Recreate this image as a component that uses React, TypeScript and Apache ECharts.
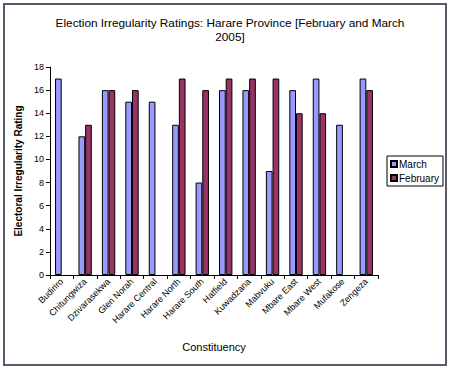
import React, { useEffect, useRef } from "react";
import * as echarts from "echarts";

const categories = [
  "Budiriro", "Chitungwiza", "Dzivarasekwa", "Glen Norah", "Harare Central",
  "Harare North", "Harare South", "Hatfield", "Kuwadzana", "Mabvuku",
  "Mbare East", "Mbare West", "Mufakose", "Zengeza",
];
const march: (number | null)[] = [17, 12, 16, 15, 15, 13, 8, 16, 16, 9, 16, 17, 13, 17];
const february: (number | null)[] = [null, 13, 16, 16, null, 17, 16, 17, 17, 17, 14, 14, null, 16];

const titleText = "Election Irregularity Ratings: Harare Province [February and March\n2005]";
const yAxisTitle = "Electoral Irregularity Rating";
const xAxisTitle = "Constituency";

export default function App() {
  const ref = useRef<HTMLDivElement>(null);
  useEffect(() => {
    document.body.style.margin = "0";
    const chart = echarts.init(ref.current!, null, { renderer: "svg" });
    const font = "Liberation Sans";
    chart.setOption({
      animation: false,
      backgroundColor: "#ffffff",
      title: {
        text: titleText,
        left: 225,
        top: 11,
        textAlign: "center",
        textStyle: { fontFamily: font, fontSize: 11.8, fontWeight: "normal", color: "#000", lineHeight: 14 },
      },
      graphic: [
        {
          type: "rect",
          shape: { x: 4, y: 4, width: 442, height: 361 },
          style: { fill: "none", stroke: "#5a5a6a", lineWidth: 2 },
        },
      ],
      legend: {
        orient: "vertical",
        left: 387,
        top: 156,
        itemWidth: 6,
        itemHeight: 6,
        itemGap: 4,
        padding: [3, 4, 3, 3],
        borderColor: "#000",
        borderWidth: 1,
        icon: "rect",
        textStyle: { fontFamily: font, fontSize: 10, color: "#000", padding: [0, 0, 0, -3] },
        data: ["March", "February"],
      },
      grid: { left: 50, top: 67, right: 72, bottom: 94, containLabel: false },
      xAxis: {
        type: "category",
        data: categories,
        name: xAxisTitle,
        nameLocation: "middle",
        nameGap: 66,
        nameTextStyle: { fontFamily: font, fontSize: 11, color: "#000" },
        axisLine: { lineStyle: { color: "#000", width: 1 } },
        axisTick: { show: true, length: 4, lineStyle: { color: "#000" } },
        axisLabel: { interval: 0, rotate: 45, fontFamily: font, fontSize: 9, color: "#000", margin: 5 },
      },
      yAxis: {
        type: "value",
        min: 0,
        max: 18,
        interval: 2,
        name: yAxisTitle,
        nameLocation: "middle",
        nameGap: 25,
        nameTextStyle: { fontFamily: font, fontSize: 10, fontWeight: "bold", color: "#000" },
        axisLine: { show: true, lineStyle: { color: "#000", width: 1 } },
        axisTick: { show: true, length: 4, lineStyle: { color: "#000" } },
        axisLabel: { fontFamily: font, fontSize: 9, color: "#000", margin: 6 },
        splitLine: { show: false },
      },
      series: [
        {
          name: "March",
          type: "bar",
          data: march,
          barGap: "0%",
          barCategoryGap: "43%",
          itemStyle: { color: "#9999ff", borderColor: "#000", borderWidth: 1 },
        },
        {
          name: "February",
          type: "bar",
          data: february,
          barGap: "0%",
          barCategoryGap: "43%",
          itemStyle: { color: "#993366", borderColor: "#000", borderWidth: 1 },
        },
      ],
    });
    return () => chart.dispose();
  }, []);
  return <div ref={ref} style={{ width: 450, height: 369 }} />;
}
